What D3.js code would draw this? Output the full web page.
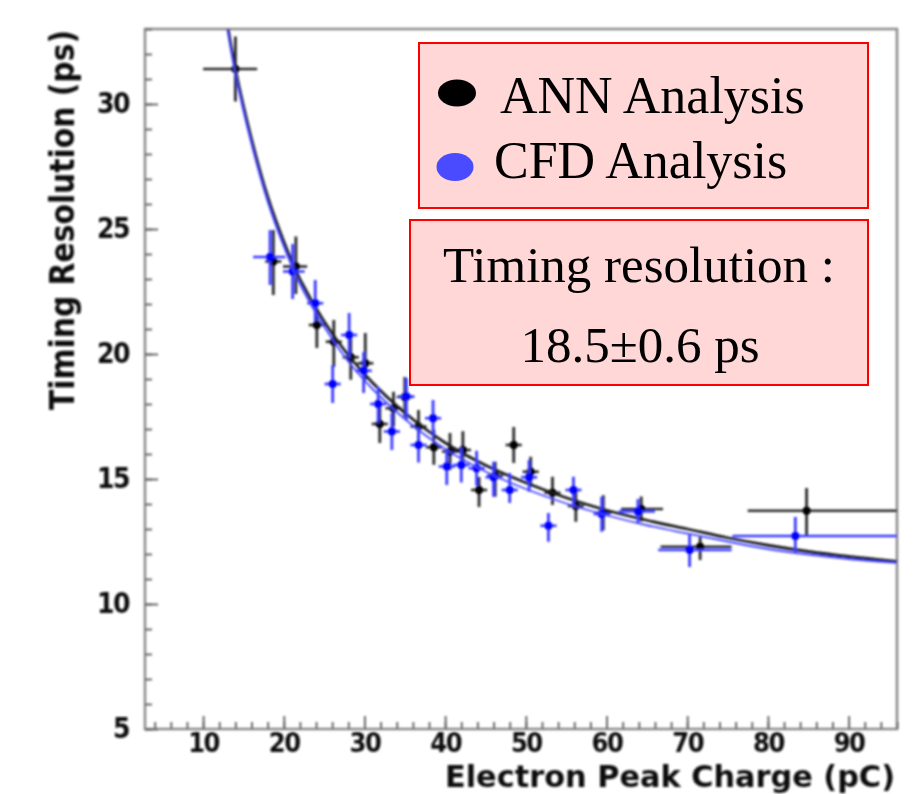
<!DOCTYPE html>
<html>
<head>
<meta charset="utf-8">
<script src="https://cdn.jsdelivr.net/npm/d3@7"></script>
<style>
  html, body { margin: 0; padding: 0; background: #fff; }
  svg { display: block; }
</style>
</head>
<body>
<svg id="chart" width="913" height="794"></svg>
<script>
// ---------------- DATA ----------------
// ANN analysis (black): charge, resolution, x-low, x-high, y-low, y-high
const annX    = [14.0, 18.7, 21.5, 24.1, 26.2, 28.3, 30.1, 31.9, 33.6, 35.0, 36.7, 38.6, 40.6, 42.2, 44.2, 46.2, 48.5, 50.6, 53.3, 56.2, 59.6, 64.3, 71.6, 84.8];
const annY    = [31.4, 23.7, 23.5, 21.16, 20.49, 19.87, 19.63, 17.2, 17.83, 18.28, 17.1, 16.27, 16.1, 16.16, 14.56, 15.13, 16.36, 15.29, 14.45, 13.92, 13.65, 13.8, 12.29, 13.73];
const annXlo  = [10.0, 17.7, 19.9, 23.1, 25.2, 27.3, 29.1, 30.9, 32.6, 34.0, 35.7, 37.6, 39.6, 41.2, 43.2, 45.2, 47.5, 49.6, 52.3, 55.2, 58.6, 61.8, 66.7, 77.5];
const annXhi  = [16.7, 19.7, 22.9, 25.1, 27.2, 29.3, 31.1, 32.9, 34.6, 36.0, 37.7, 39.6, 41.6, 43.2, 45.2, 47.2, 49.5, 51.6, 54.3, 57.2, 60.6, 67.0, 75.5, 96.0];
const annYlo  = [30.1, 22.36, 22.4, 20.24, 19.48, 18.97, 18.96, 16.44, 17.09, 17.48, 16.29, 15.57, 15.36, 15.41, 13.88, 14.29, 15.64, 14.69, 13.96, 13.29, 12.95, 13.3, 11.76, 12.76];
const annYhi  = [32.7, 24.96, 24.7, 21.84, 21.36, 20.77, 20.84, 17.88, 18.49, 19.08, 17.76, 16.97, 16.84, 16.91, 15.08, 15.69, 17.08, 15.89, 15.09, 14.49, 14.35, 14.3, 12.68, 14.64];

// CFD analysis (blue)
const cfdX    = [18.3, 21.1, 23.9, 26.06, 28.1, 29.9, 31.7, 33.4, 35.2, 36.7, 38.5, 40.2, 42.0, 43.9, 46.0, 48.0, 50.4, 52.8, 55.9, 59.4, 63.9, 70.3, 83.4];
const cfdY    = [23.88, 23.3, 22.03, 18.8, 20.76, 19.33, 18.0, 16.9, 18.3, 16.36, 17.43, 15.5, 15.56, 15.43, 15.07, 14.56, 15.07, 13.13, 14.56, 13.6, 13.7, 12.16, 12.72];
const cfdXlo  = [16.2, 19.9, 22.9, 25.06, 27.1, 28.9, 30.7, 32.4, 34.2, 35.7, 37.5, 39.2, 41.0, 42.9, 45.0, 47.0, 49.4, 51.8, 54.9, 58.4, 61.5, 66.4, 75.6];
const cfdXhi  = [20.2, 22.6, 24.9, 27.06, 29.1, 30.9, 32.7, 34.4, 36.2, 37.7, 39.5, 41.2, 43.0, 44.9, 47.0, 49.0, 51.4, 53.8, 56.9, 60.4, 66.0, 75.5, 96.0];
const cfdYlo  = [22.76, 22.2, 21.3, 18.04, 19.84, 18.44, 17.24, 16.16, 17.36, 15.66, 16.69, 14.76, 14.86, 14.73, 14.29, 14.04, 14.49, 12.49, 13.89, 12.89, 13.2, 11.48, 12.04];
const cfdYhi  = [24.96, 24.4, 22.96, 19.56, 21.64, 20.08, 18.68, 17.64, 19.04, 17.06, 18.16, 16.16, 16.26, 16.13, 15.69, 15.24, 15.76, 13.64, 15.09, 14.29, 14.2, 12.76, 13.48];

// Fitted curves
const fitX    = [12.5, 14, 16, 18, 20, 22, 25, 28, 31, 35, 40, 45, 50, 55, 60, 65, 70, 75, 80, 85, 90, 96];
const fitAnnY = [34.2, 31.4, 28.6, 26.3, 24.5, 23.0, 21.3, 19.95, 18.85, 17.65, 16.45, 15.55, 14.85, 14.25, 13.75, 13.35, 13.0, 12.65, 12.35, 12.1, 11.9, 11.7];
const fitCfdY = [34.0, 31.2, 28.4, 26.1, 24.3, 22.8, 21.1, 19.7, 18.6, 17.4, 16.2, 15.3, 14.6, 14.02, 13.55, 13.15, 12.82, 12.5, 12.2, 11.98, 11.8, 11.65];

// Axes
const xDomain = [2.8, 96];
const yDomain = [5, 33];
const xMajorTicks = [10, 20, 30, 40, 50, 60, 70, 80, 90];
const xMinorTicks = d3.range(4, 97, 2);
const yMajorTicks = [5, 10, 15, 20, 25, 30];
const yMinorTicks = d3.range(5, 34, 1);
const xTitle = "Electron Peak Charge (pC)";
const yTitle = "Timing Resolution (ps)";

// Legend / annotation text
const legendLabels = ["ANN Analysis", "CFD Analysis"];
const noteLines = ["Timing resolution :", "18.5\u00B10.6 ps"];

// ---------------- DRAWING ----------------
const svg = d3.select("#chart");
const L = 145, T = 29, R = 897, B = 729;

const x = d3.scaleLinear().domain(xDomain).range([L, R]);
const y = d3.scaleLinear().domain(yDomain).range([B, T]);

const defs = svg.append("defs");
defs.append("filter").attr("id", "soft").attr("filterUnits", "userSpaceOnUse")
  .attr("x", 0).attr("y", 0).attr("width", 913).attr("height", 794)
  .append("feGaussianBlur").attr("stdDeviation", 1.1);
defs.append("clipPath").attr("id", "plotclip")
  .append("rect").attr("x", L).attr("y", T).attr("width", R - L).attr("height", B - T);

const blurG = svg.append("g").attr("filter", "url(#soft)");

const tickFont = "'Liberation Sans Narrow','DejaVu Sans Condensed','Arial Narrow',sans-serif";

// frame
blurG.append("rect").attr("x", L).attr("y", T).attr("width", R - L).attr("height", B - T)
  .attr("fill", "none").attr("stroke", "#8a8a8a").attr("stroke-width", 2.5);

// axes
function styleAxis(g) {
  g.select(".domain").remove();
  g.selectAll(".tick line").attr("stroke", "#6a6a6a").attr("stroke-width", 2);
}
blurG.append("g").attr("transform", `translate(${L},0)`)
  .call(d3.axisLeft(y).tickValues(yMinorTicks).tickSize(-7).tickFormat(""))
  .call(styleAxis);
const yAx = blurG.append("g").attr("transform", `translate(${L},0)`)
  .call(d3.axisLeft(y).tickValues(yMajorTicks).tickSize(-13).tickPadding(16).tickFormat(d3.format("d")))
  .call(styleAxis);
yAx.selectAll("text").attr("font-family", tickFont).attr("font-weight", "bold")
  .attr("font-size", 28).attr("fill", "#111").attr("letter-spacing", -1.5);

blurG.append("g").attr("transform", `translate(0,${B})`)
  .call(d3.axisBottom(x).tickValues(xMinorTicks).tickSize(-7).tickFormat(""))
  .call(styleAxis);
const xAx = blurG.append("g").attr("transform", `translate(0,${B})`)
  .call(d3.axisBottom(x).tickValues(xMajorTicks).tickSize(-13).tickPadding(4).tickFormat(d3.format("d")))
  .call(styleAxis);
xAx.selectAll("text").attr("font-family", tickFont).attr("font-weight", "bold")
  .attr("font-size", 27).attr("fill", "#111").attr("letter-spacing", -1.5);

// axis titles
blurG.append("text").text(xTitle)
  .attr("x", 895).attr("y", 787).attr("text-anchor", "end")
  .attr("font-family", tickFont).attr("font-weight", "bold").attr("font-size", 30).attr("fill", "#111")
  .attr("textLength", 450).attr("lengthAdjust", "spacingAndGlyphs");
blurG.append("text").text(yTitle)
  .attr("transform", "translate(74,410) rotate(-90)").attr("text-anchor", "start")
  .attr("font-family", tickFont).attr("font-weight", "bold").attr("font-size", 34).attr("fill", "#111")
  .attr("textLength", 380).attr("lengthAdjust", "spacingAndGlyphs");

// plot marks
const plotG = blurG.append("g").attr("clip-path", "url(#plotclip)");
const line = d3.line().x(d => x(d[0])).y(d => y(d[1])).curve(d3.curveCatmullRom.alpha(0.5));

function drawSeries(xs, ys, xlo, xhi, ylo, yhi, color, barColor, r) {
  const g = plotG.append("g");
  const idx = d3.range(xs.length);
  g.selectAll("line.xe").data(idx).join("line")
    .attr("x1", i => x(xlo[i])).attr("x2", i => x(xhi[i]))
    .attr("y1", i => y(ys[i])).attr("y2", i => y(ys[i]))
    .attr("stroke", barColor).attr("stroke-width", 2.6);
  g.selectAll("line.ye").data(idx).join("line")
    .attr("x1", i => x(xs[i])).attr("x2", i => x(xs[i]))
    .attr("y1", i => y(ylo[i])).attr("y2", i => y(yhi[i]))
    .attr("stroke", barColor).attr("stroke-width", 2.8);
  g.selectAll("circle").data(idx).join("circle")
    .attr("cx", i => x(xs[i])).attr("cy", i => y(ys[i])).attr("r", r)
    .attr("fill", color);
}

drawSeries(annX, annY, annXlo, annXhi, annYlo, annYhi, "#000", "#2a2a2a", 4.2);
plotG.append("path").datum(fitX.map((v, i) => [v, fitAnnY[i]]))
  .attr("d", line).attr("fill", "none").attr("stroke", "#1a1a1a").attr("stroke-width", 2.8);
drawSeries(cfdX, cfdY, cfdXlo, cfdXhi, cfdYlo, cfdYhi, "#0000ff", "#3b3bff", 4.2);
plotG.append("path").datum(fitX.map((v, i) => [v, fitCfdY[i]]))
  .attr("d", line).attr("fill", "none").attr("stroke", "#4646ff").attr("stroke-width", 1.8);

// legend boxes (crisp)
const serif = "'Liberation Serif','Times New Roman',serif";
svg.append("rect").attr("x", 419).attr("y", 43).attr("width", 449).attr("height", 165)
  .attr("fill", "#ffd7d7").attr("stroke", "#ff0000").attr("stroke-width", 2);
svg.append("ellipse").attr("cx", 457).attr("cy", 93).attr("rx", 19).attr("ry", 13.5).attr("fill", "#000");
svg.append("ellipse").attr("cx", 455).attr("cy", 167).attr("rx", 18.5).attr("ry", 14).attr("fill", "#4a4aff");
svg.append("text").text(legendLabels[0]).attr("x", 500).attr("y", 113)
  .attr("font-family", serif).attr("font-size", 52).attr("fill", "#000");
svg.append("text").text(legendLabels[1]).attr("x", 494).attr("y", 178)
  .attr("font-family", serif).attr("font-size", 52).attr("fill", "#000");

svg.append("rect").attr("x", 410).attr("y", 220).attr("width", 458).attr("height", 165)
  .attr("fill", "#ffd7d7").attr("stroke", "#ff0000").attr("stroke-width", 2);
svg.append("text").text(noteLines[0]).attr("x", 639).attr("y", 282).attr("text-anchor", "middle")
  .attr("font-family", serif).attr("font-size", 51).attr("fill", "#000");
svg.append("text").text(noteLines[1]).attr("x", 640).attr("y", 362).attr("text-anchor", "middle")
  .attr("font-family", serif).attr("font-size", 51).attr("fill", "#000");
</script>
</body>
</html>
